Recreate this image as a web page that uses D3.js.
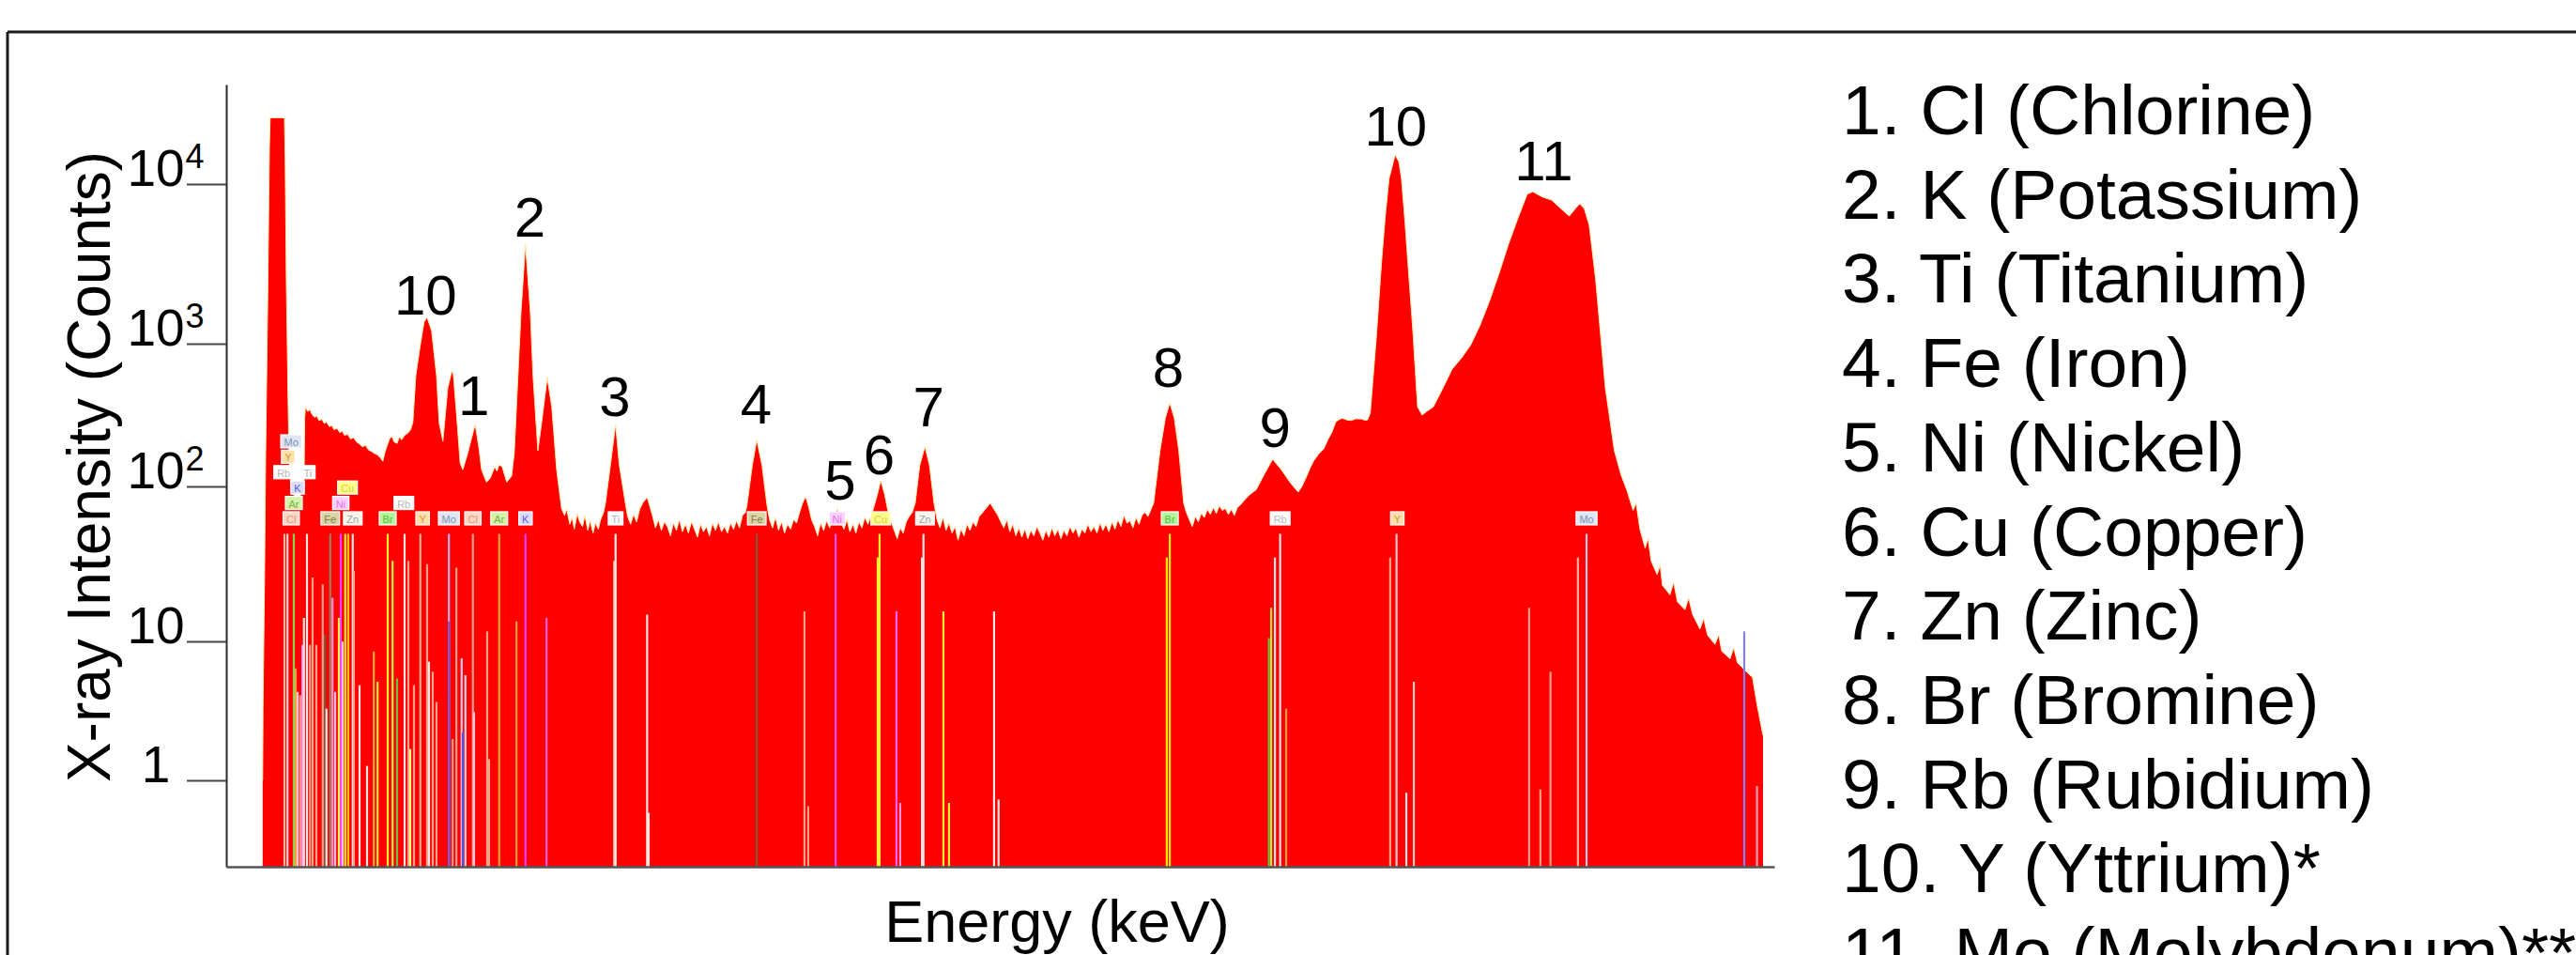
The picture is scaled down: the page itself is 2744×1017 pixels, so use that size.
<!DOCTYPE html>
<html>
<head>
<meta charset="utf-8">
<script src="https://cdn.jsdelivr.net/npm/d3@7"></script>
<style>
  body { margin: 0; background: #ffffff; }
  text { font-family: "Liberation Sans", Arial, sans-serif; }
</style>
</head>
<body>
<div id="chart"></div>
<script>
// XRF spectrum, log counts vs energy
//================================
var svgWidth = 2744;
var svgHeight = 1017;

// spectrum: [energy keV, counts]
var spectrum = [
  [-0.19, 1], [-0.185, 3.4], [-0.165, 25], [-0.15, 170], [-0.125, 1560], [-0.1, 17000], [-0.09, 26000],
  [0.1, 26000], [0.11, 14200], [0.125, 2450], [0.15, 360], [0.16, 178], [0.18, 110], [0.2, 90], [0.26, 85],
  [0.32, 88], [0.36, 95], [0.37, 300], [0.38, 362], [0.41, 335], [0.44, 345], [0.47, 318], [0.5, 305],
  [0.53, 312], [0.56, 290], [0.6, 295], [0.63, 276], [0.66, 282], [0.7, 262], [0.73, 268], [0.76, 250],
  [0.8, 255], [0.84, 238], [0.87, 244], [0.9, 228], [0.94, 232], [0.98, 215], [1.02, 220], [1.06, 205],
  [1.1, 198], [1.14, 190], [1.18, 194], [1.22, 180], [1.26, 176], [1.3, 170], [1.34, 166], [1.38, 158],
  [1.41, 150], [1.44, 175], [1.47, 195], [1.5, 215], [1.53, 225], [1.56, 205], [1.6, 200], [1.63, 222],
  [1.66, 212], [1.7, 228], [1.74, 235], [1.78, 250], [1.81, 280], [1.85, 600], [1.91, 985], [1.96, 1370],
  [2.0, 1460], [2.06, 1200], [2.125, 600], [2.16, 280], [2.21, 207], [2.275, 490], [2.33, 646], [2.35, 600],
  [2.4, 280], [2.44, 146], [2.475, 131], [2.54, 170], [2.59, 216], [2.64, 272], [2.69, 186], [2.725, 131],
  [2.79, 107], [2.84, 114], [2.9, 137], [2.93, 128], [2.96, 142], [3.0, 137], [3.06, 107], [3.125, 118],
  [3.16, 170], [3.21, 600], [3.25, 1560], [3.31, 4200], [3.375, 1560], [3.41, 600], [3.475, 178], [3.525, 280],
  [3.6, 580], [3.66, 360], [3.725, 131], [3.79, 72], [3.83, 65], [3.86, 71], [3.9, 57], [3.93, 63],
  [3.96, 53], [4.0, 67], [4.03, 59], [4.07, 55], [4.1, 65], [4.14, 52], [4.17, 60], [4.21, 50],
  [4.24, 58], [4.28, 53], [4.31, 61], [4.35, 68], [4.375, 78], [4.44, 140], [4.51, 272], [4.56, 140],
  [4.64, 78], [4.67, 64], [4.71, 57], [4.75, 66], [4.79, 59], [4.83, 71], [4.87, 78], [4.93, 85],
  [4.97, 73], [5.0, 65], [5.04, 54], [5.08, 61], [5.12, 52], [5.16, 59], [5.2, 55], [5.24, 48],
  [5.28, 58], [5.32, 52], [5.36, 61], [5.4, 51], [5.44, 57], [5.48, 50], [5.52, 59], [5.56, 53],
  [5.6, 47], [5.64, 57], [5.68, 51], [5.72, 55], [5.76, 48], [5.8, 58], [5.84, 52], [5.88, 59],
  [5.92, 51], [5.96, 55], [6.0, 50], [6.04, 58], [6.08, 53], [6.12, 60], [6.16, 54], [6.2, 65],
  [6.24, 68], [6.26, 76], [6.33, 140], [6.39, 212], [6.46, 140], [6.525, 76], [6.56, 61], [6.6, 54],
  [6.64, 63], [6.68, 52], [6.72, 59], [6.76, 50], [6.8, 57], [6.84, 53], [6.88, 61], [6.92, 58],
  [6.96, 68], [7.0, 78], [7.04, 86], [7.08, 74], [7.12, 61], [7.16, 55], [7.2, 48], [7.24, 58],
  [7.28, 52], [7.32, 60], [7.36, 54], [7.4, 63], [7.44, 68], [7.47, 71], [7.51, 59], [7.55, 53],
  [7.59, 61], [7.63, 51], [7.67, 57], [7.71, 50], [7.75, 59], [7.79, 54], [7.83, 63], [7.87, 57],
  [7.91, 65], [7.94, 71], [8.0, 90], [8.04, 110], [8.09, 90], [8.14, 68], [8.18, 59], [8.22, 52],
  [8.26, 46], [8.3, 54], [8.34, 50], [8.38, 59], [8.42, 64], [8.46, 68], [8.5, 78], [8.56, 140],
  [8.63, 190], [8.69, 140], [8.75, 78], [8.79, 61], [8.83, 54], [8.87, 63], [8.91, 52], [8.95, 58],
  [8.99, 50], [9.03, 55], [9.07, 45], [9.11, 53], [9.15, 48], [9.19, 57], [9.23, 52], [9.27, 59],
  [9.31, 55], [9.35, 64], [9.4, 68], [9.45, 73], [9.5, 78], [9.55, 71], [9.6, 65], [9.64, 59],
  [9.68, 54], [9.72, 61], [9.76, 51], [9.8, 57], [9.84, 48], [9.88, 54], [9.92, 47], [9.96, 53],
  [10.0, 46], [10.04, 52], [10.08, 48], [10.12, 55], [10.16, 50], [10.2, 45], [10.24, 52], [10.28, 47],
  [10.32, 54], [10.36, 48], [10.4, 53], [10.44, 46], [10.48, 52], [10.52, 48], [10.56, 55], [10.6, 50],
  [10.64, 54], [10.68, 47], [10.72, 53], [10.76, 50], [10.8, 57], [10.84, 51], [10.88, 55], [10.92, 50],
  [10.96, 58], [11.0, 52], [11.04, 57], [11.08, 51], [11.12, 59], [11.16, 53], [11.2, 61], [11.24, 55],
  [11.28, 65], [11.32, 58], [11.36, 60], [11.4, 54], [11.44, 63], [11.48, 57], [11.52, 65], [11.56, 68],
  [11.6, 64], [11.64, 71], [11.675, 78], [11.76, 178], [11.83, 300], [11.89, 385], [11.95, 300], [12.01, 178],
  [12.075, 78], [12.11, 68], [12.15, 61], [12.19, 55], [12.23, 64], [12.27, 59], [12.31, 67], [12.35, 63],
  [12.39, 71], [12.43, 66], [12.47, 73], [12.51, 67], [12.55, 75], [12.59, 70], [12.63, 72], [12.67, 66],
  [12.71, 71], [12.75, 65], [12.79, 73], [12.83, 76], [12.87, 80], [12.91, 84], [12.95, 88], [13.0, 92],
  [13.04, 95], [13.15, 122], [13.26, 155], [13.375, 131], [13.5, 105], [13.6, 92], [13.65, 100], [13.71, 117],
  [13.76, 135], [13.81, 152], [13.87, 168], [13.94, 183], [14.0, 215], [14.05, 240], [14.1, 283], [14.15, 295],
  [14.19, 300], [14.25, 292], [14.31, 290], [14.37, 298], [14.44, 297], [14.5, 290], [14.525, 293], [14.56, 327],
  [14.64, 1085], [14.71, 3240], [14.76, 6300], [14.81, 10800], [14.89, 15200], [14.94, 13800], [14.975, 10800], [15.025, 5530],
  [15.06, 3240], [15.125, 1240], [15.19, 361], [15.25, 316], [15.31, 335], [15.4, 361], [15.52, 480], [15.65, 663],
  [15.78, 800], [15.9, 985], [16.02, 1300], [16.15, 1860], [16.28, 2800], [16.4, 4190], [16.52, 6000], [16.65, 8650],
  [16.725, 8950], [16.85, 8300], [16.975, 7930], [17.1, 7000], [17.21, 6300], [17.29, 7000], [17.35, 7530], [17.41, 7000],
  [17.475, 5530], [17.56, 2550], [17.69, 490], [17.81, 178], [17.9, 120], [17.975, 95], [18.06, 70], [18.1, 78],
  [18.15, 53], [18.22, 40], [18.26, 46], [18.3, 33], [18.38, 27], [18.42, 31], [18.45, 23], [18.55, 20],
  [18.6, 24], [18.65, 18], [18.75, 16], [18.8, 19], [18.85, 15], [18.95, 12], [19.0, 14], [19.05, 11],
  [19.15, 9.5], [19.2, 11], [19.24, 8.5], [19.35, 7.5], [19.4, 9], [19.45, 7], [19.575, 6], [19.65, 5.5],
  [19.71, 3.5], [19.79, 2.1]
];

// element marker lines: [energy keV, relative height 0-100, colour]
var markerLines = [
  [0.10, 99, "#f7b09a"], [0.14, 99, "#ffd6d6"], [0.225, 99, "#8fd14f"], [0.25, 59, "#ffa040"],
  [0.275, 52, "#ffc0d0"], [0.31, 51, "#f7a08a"], [0.34, 66, "#ff90ff"], [0.36, 74, "#ffe4e4"],
  [0.40, 99, "#ffe4e4"], [0.44, 66, "#f7a08a"], [0.475, 86, "#f7a08a"], [0.525, 66, "#f7a08a"],
  [0.61, 84, "#f7a08a"], [0.64, 69, "#7a5a3a"], [0.66, 47, "#ffe4e4"], [0.71, 99, "#9a8060"],
  [0.74, 80, "#ff90d0"], [0.775, 52, "#ffb8e8"], [0.825, 74, "#ffff40"], [0.85, 99, "#ff40ff"],
  [0.875, 67, "#ffc0e0"], [0.91, 99, "#ffee30"], [0.95, 99, "#ffc000"], [1.01, 99, "#ffe8e8"],
  [1.025, 88, "#f7a08a"], [1.1, 54, "#ffe4e4"], [1.2, 30, "#ffe4e4"], [1.29, 64, "#ffb030"],
  [1.34, 55, "#ffee30"], [1.475, 99, "#f0f030"], [1.54, 91, "#d8f040"], [1.6, 56, "#70c040"],
  [1.7, 99, "#ffe4e4"], [1.75, 91, "#f7a08a"], [1.775, 35, "#ffff80"], [1.825, 54, "#f7a08a"],
  [1.91, 99, "#f7b090"], [2.0, 90, "#f7a08a"], [2.025, 61, "#ffe4e4"], [2.075, 58, "#f7a08a"],
  [2.125, 49, "#f7a08a"], [2.29, 99, "#c8b0f0"], [2.29, 73, "#6a5ae0"], [2.34, 38, "#f7a08a"],
  [2.39, 89, "#f7a08a"], [2.46, 62, "#e8c8f0"], [2.475, 40, "#5050d0"], [2.51, 57, "#f0d0e8"],
  [2.61, 99, "#f7a08a"], [2.625, 46, "#ffc0e0"], [2.8, 70, "#f7a08a"], [2.825, 32, "#f7a08a"],
  [2.96, 99, "#ffa030"], [3.19, 73, "#ffa030"], [3.31, 99, "#ff40ff"], [3.59, 74, "#ff60e0"],
  [4.49, 91, "#f7b0a0"], [4.51, 99, "#fff0f0"], [4.93, 75, "#ffe4e4"], [4.95, 16, "#ffe4e4"],
  [6.39, 99, "#7a5a3a"], [7.025, 76, "#f7a08a"], [7.075, 18, "#f7a08a"], [7.44, 99, "#ff50ff"],
  [8.0, 92, "#ffee30"], [8.025, 99, "#ffee30"], [8.25, 76, "#ff60ff"], [8.3, 19, "#ff90e0"],
  [8.59, 92, "#ffe8e8"], [8.61, 99, "#ffe8e8"], [8.875, 76, "#ffee30"], [8.95, 19, "#ffee30"],
  [9.55, 76, "#ffe4e4"], [9.61, 20, "#ffe4e4"], [11.85, 92, "#ffee00"], [11.89, 99, "#ffee00"],
  [13.21, 68, "#70c040"], [13.24, 77, "#d0e040"], [13.29, 92, "#ffe4e4"], [13.36, 99, "#ffe4e4"],
  [13.44, 47, "#ffa030"], [14.825, 92, "#f7a08a"], [14.91, 99, "#ffc8c8"], [15.04, 22, "#ffe4e4"],
  [15.14, 55, "#ffd0c0"], [16.675, 77, "#f7a08a"], [16.825, 23, "#f7a08a"], [16.96, 58, "#f7a08a"],
  [17.325, 92, "#f7b0a0"], [17.44, 99, "#e8c8e8"], [19.54, 70, "#8080ff"], [19.71, 24, "#ffa0b0"]
];

// element tags on the marker lines: [symbol, energy keV, stack row]
var elementTags = [
  ["Mo", 0.19, 6], ["Y", 0.15, 5], ["Rb", 0.09, 4], ["Ti", 0.41, 4], ["K", 0.275, 3],
  ["Ar", 0.225, 2], ["Cl", 0.19, 1], ["Fe", 0.71, 1], ["Zn", 1.01, 1], ["Ni", 0.85, 2],
  ["Cu", 0.94, 3], ["Br", 1.475, 1], ["Rb", 1.69, 2], ["Y", 1.94, 1], ["Mo", 2.29, 1],
  ["Cl", 2.61, 1], ["Ar", 2.96, 1], ["K", 3.31, 1], ["Ti", 4.51, 1], ["Fe", 6.39, 1],
  ["Ni", 7.46, 1], ["Cu", 8.04, 1], ["Zn", 8.63, 1], ["Br", 11.89, 1], ["Rb", 13.36, 1],
  ["Y", 14.92, 1], ["Mo", 17.44, 1]
];

// numbered peak labels: [label, energy keV, counts at label baseline]
var peakLabels = [
  ["10", 1.98, 1520], ["1", 2.62, 316], ["2", 3.37, 4700], ["3", 4.5, 310], ["4", 6.38, 276],
  ["5", 7.5, 82], ["6", 8.02, 122], ["7", 8.68, 265], ["8", 11.87, 500], ["9", 13.29, 190],
  ["10", 14.9, 17500], ["11", 16.87, 10500]
];

var legendItems = [
  "1. Cl (Chlorine)", "2. K (Potassium)", "3. Ti (Titanium)", "4. Fe (Iron)", "5. Ni (Nickel)",
  "6. Cu (Copper)", "7. Zn (Zinc)", "8. Br (Bromine)", "9. Rb (Rubidium)", "10. Y (Yttrium)*",
  "11. Mo (Molybdenum)**"
];

var yTickValues = [1, 10, 100, 1000, 10000];
var yTickBase = ["1", "10", "10", "10", "10"];
var yTickExp = ["", "", "2", "3", "4"];

var tagColors = {
  Cl: ["#fcd9c4", "#e8907a"], Ar: ["#d4f2a8", "#78b048"], K: ["#dcdcff", "#5c5cd8"],
  Ti: ["#ffffff", "#b0b0b0"], Fe: ["#d8d4a4", "#8a7a50"], Ni: ["#ffd0ff", "#e070e0"],
  Cu: ["#ffff8c", "#d8c840"], Zn: ["#f6f6ee", "#a0a0a0"], Br: ["#b4f49c", "#58c038"],
  Rb: ["#ffffff", "#b8b8b8"], Y: ["#ffe0a8", "#c89848"], Mo: ["#dfe6f2", "#8090b8"]
};

var svg = d3.select("#chart")
  .append("svg")
  .attr("width", svgWidth)
  .attr("height", svgHeight)
  .style("display", "block");

svg.append("rect")
  .attr("width", svgWidth)
  .attr("height", svgHeight)
  .attr("fill", "#ffffff");

// frame of the slide (only top and left show)
svg.append("line").attr("x1", 8).attr("x2", svgWidth).attr("y1", 34).attr("y2", 34)
  .attr("stroke", "#1c1c1c").attr("stroke-width", 3);
svg.append("line").attr("x1", 8).attr("x2", 8).attr("y1", 34).attr("y2", svgHeight)
  .attr("stroke", "#1c1c1c").attr("stroke-width", 3);

// Scales
var xScale = d3.scaleLinear()
  .domain([-0.675, 19.94])
  .range([241, 1890]);

// the original axis is not evenly spaced per decade
var yScale = d3.scaleLog()
  .domain([0.24, 1, 10, 100, 1000, 10000, 42000])
  .range([923, 831, 683, 518, 366, 196, 90]);

var markScale = d3.scaleLinear()
  .domain([0, 100])
  .range([923, 565]);

// spectrum area
var area = d3.area()
  .x(d => xScale(d[0]))
  .y0(yScale(0.24))
  .y1(d => yScale(d[1]));

var line = d3.line()
  .x(d => xScale(d[0]))
  .y(d => yScale(d[1]));

svg.append("path")
  .datum(spectrum)
  .attr("d", area)
  .attr("fill", "#ff0000");

svg.append("path")
  .datum(spectrum)
  .attr("d", line)
  .attr("fill", "none")
  .attr("stroke", "#ffeaa8")
  .attr("stroke-width", 1);

// marker lines
svg.selectAll(".marker")
  .data(markerLines)
  .enter()
  .append("line")
  .attr("class", "marker")
  .attr("x1", d => xScale(d[0]))
  .attr("x2", d => xScale(d[0]))
  .attr("y1", markScale(0))
  .attr("y2", d => markScale(d[1]))
  .attr("stroke", d => d[2])
  .attr("stroke-width", 2.2);

// element tags
var tagTop = markScale(100) - 6;
var tags = svg.selectAll(".tag")
  .data(elementTags)
  .enter()
  .append("g")
  .attr("class", "tag")
  .attr("transform", d => `translate(${xScale(d[1])}, ${tagTop - (d[2] - 1) * 16.4})`);

tags.append("text")
  .attr("text-anchor", "middle")
  .attr("y", -2)
  .style("font-size", "11px")
  .attr("fill", d => tagColors[d[0]][1])
  .text(d => d[0])
  .each(function(d) {
    var w = this.getComputedTextLength() + 7;
    d3.select(this.parentNode).insert("rect", "text")
      .attr("x", -w / 2)
      .attr("y", -14)
      .attr("width", w)
      .attr("height", 14)
      .attr("fill", tagColors[d[0]][0])
      .attr("stroke", "#ffffff")
      .attr("stroke-width", 1.2);
  });

// Axes
var leftAxis = d3.axisLeft(yScale)
  .tickValues(yTickValues)
  .tickSize(42)
  .tickSizeOuter(0)
  .tickFormat("");

var yAxisG = svg.append("g")
  .attr("transform", "translate(241, 0)")
  .call(leftAxis);
yAxisG.select(".domain").attr("stroke", "#2a2a2a").attr("stroke-width", 2);
yAxisG.selectAll(".tick line").attr("stroke", "#444").attr("stroke-width", 2);

var bottomAxis = d3.axisBottom(xScale)
  .tickValues([])
  .tickSizeOuter(0);

var xAxisG = svg.append("g")
  .attr("transform", `translate(0, ${yScale(0.24)})`)
  .call(bottomAxis);
xAxisG.select(".domain").attr("stroke", "#555").attr("stroke-width", 2.5);

// tick labels with superscripts
yTickValues.forEach(function(v, i) {
  var t = svg.append("text")
    .attr("x", 166)
    .attr("y", yScale(v) + 2)
    .attr("text-anchor", "middle")
    .style("font-size", "55px")
    .attr("fill", "#000")
    .text(yTickBase[i]);
  if (yTickExp[i]) {
    var box = t.node().getBBox();
    svg.append("text")
      .attr("x", box.x + box.width + 1)
      .attr("y", yScale(v) - 17)
      .style("font-size", "36px")
      .attr("fill", "#000")
      .text(yTickExp[i]);
  }
});

// Axes labels
svg.append("text")
  .attr("transform", `translate(117, ${(yScale(1) + 163) / 2}) rotate(-90)`)
  .attr("text-anchor", "middle")
  .style("font-size", "64px")
  .attr("fill", "#000")
  .text("X-ray Intensity (Counts)");

svg.append("text")
  .attr("x", 1126)
  .attr("y", 1003)
  .attr("text-anchor", "middle")
  .style("font-size", "63px")
  .attr("fill", "#000")
  .text("Energy (keV)");

// peak numbers
svg.selectAll(".peakLabel")
  .data(peakLabels)
  .enter()
  .append("text")
  .attr("class", "peakLabel")
  .attr("x", d => xScale(d[1]))
  .attr("y", d => yScale(d[2]))
  .attr("text-anchor", "middle")
  .style("font-size", "60px")
  .attr("fill", "#000")
  .text(d => d[0]);

// legend list (last entry runs off the bottom, as in the slide)
svg.selectAll(".legendItem")
  .data(legendItems)
  .enter()
  .append("text")
  .attr("class", "legendItem")
  .attr("x", 1962)
  .attr("y", (d, i) => 143 + i * 89.7)
  .style("font-size", "75px")
  .attr("fill", "#000")
  .text(d => d);
</script>
</body>
</html>
